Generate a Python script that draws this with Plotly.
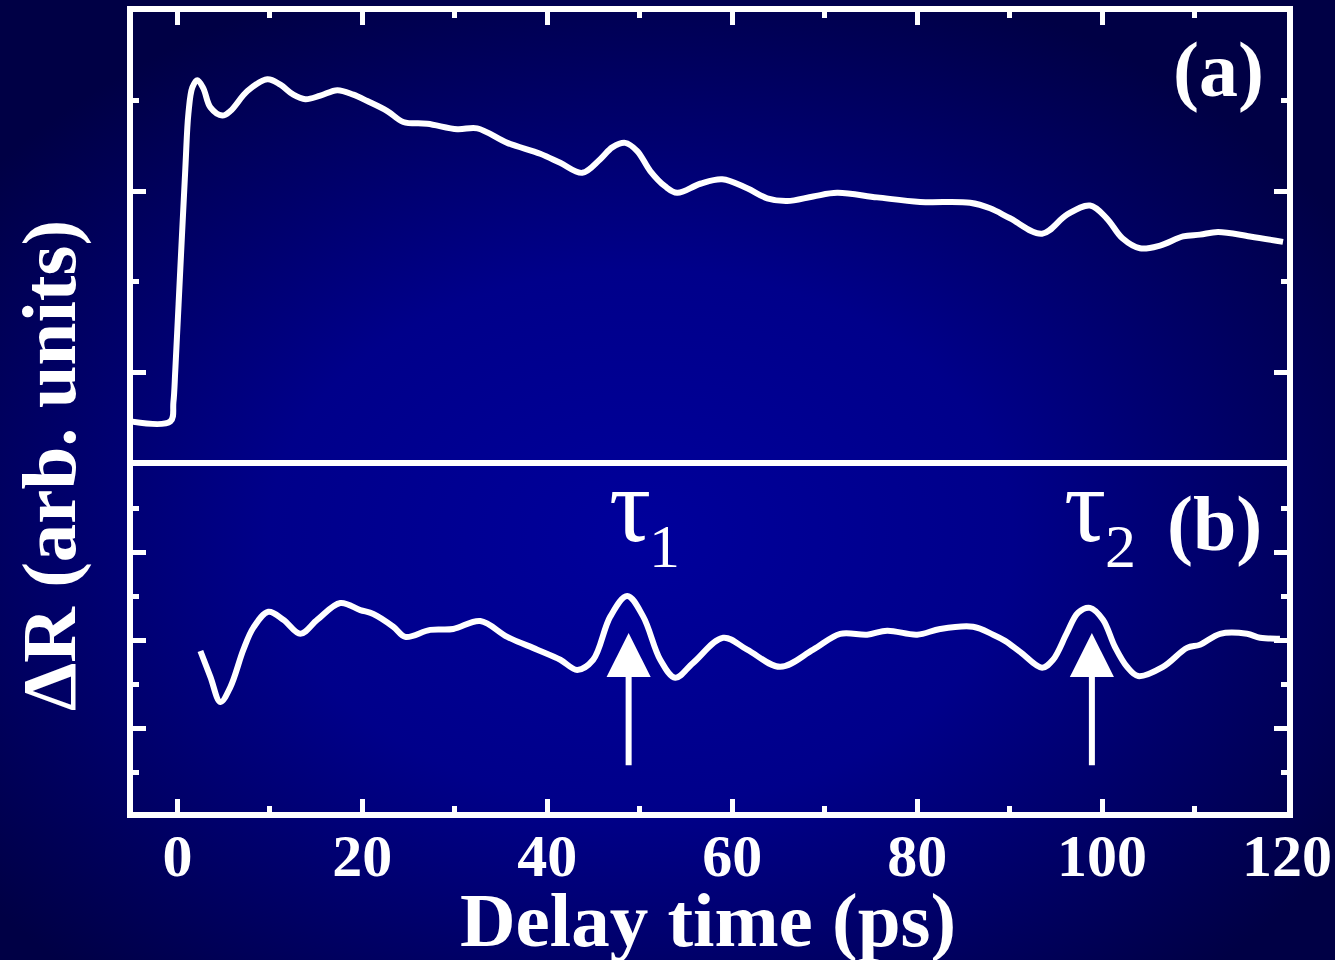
import base64
import plotly.graph_objects as go
from plotly.subplots import make_subplots

# ---------------- data ----------------
delay_a = [-5.08, -0.76, -0.43, -0.22, 0.32, 0.86, 1.19, 1.62, 2.16, 2.81, 3.57, 4.86, 5.73,
           7.57, 9.73, 11.14, 12.54, 13.84, 15.46, 17.30, 19.03, 20.54, 22.70, 24.43, 27.03,
           30.27, 32.43, 35.68, 39.24, 41.40, 43.78, 45.73, 47.03, 48.43, 49.73, 51.14, 52.76,
           54.05, 56.54, 58.92, 61.62, 63.78, 65.95, 68.76, 71.35, 75.68, 80.32, 85.73, 87.89,
           90.05, 93.51, 96.20, 98.70, 100.50, 102.20, 104.10, 106.27, 108.76, 110.59, 112.54,
           116.00, 119.57]
signal_a = [0.465, 0.465, 0.675, 1.04, 2.15, 3.25, 3.85, 4.14, 4.22, 4.13, 3.92, 3.83, 3.88,
            4.10, 4.23, 4.17, 4.06, 4.01, 4.05, 4.11, 4.06, 3.99, 3.88, 3.76, 3.74,
            3.68, 3.69, 3.53, 3.41, 3.31, 3.20, 3.35, 3.48, 3.53, 3.44, 3.22, 3.05,
            2.98, 3.08, 3.13, 3.03, 2.92, 2.89, 2.94, 2.98, 2.93, 2.88, 2.87, 2.81,
            2.70, 2.53, 2.74, 2.84, 2.70, 2.48, 2.37, 2.40, 2.50, 2.52, 2.55,
            2.50, 2.44]

delay_b = [2.49, 3.57, 4.65, 5.73, 7.14, 8.22, 9.84, 11.46, 13.30, 15.14, 17.62, 19.78, 21.19,
           23.35, 24.65, 27.35, 29.84, 32.76, 35.68, 38.92, 41.41, 43.24, 44.97, 46.81, 48.65,
           50.38, 52.22, 53.84, 55.78, 59.03, 61.62, 65.19, 68.76, 71.68, 74.59, 76.76, 80.00,
           82.49, 86.05, 88.22, 89.51, 91.14, 93.51, 94.70, 96.20, 97.40, 98.70, 100.10, 101.40,
           102.70, 103.90, 106.59, 109.19, 110.59, 112.76, 115.68, 117.08, 119.24]
signal_b = [3.77, 3.18, 2.61, 2.95, 3.80, 4.30, 4.66, 4.48, 4.16, 4.48, 4.86, 4.70, 4.61,
            4.32, 4.09, 4.25, 4.27, 4.45, 4.09, 3.80, 3.57, 3.34, 3.57, 4.55, 5.02,
            4.55, 3.57, 3.16, 3.50, 4.07, 3.80, 3.41, 3.80, 4.16, 4.14, 4.23, 4.14,
            4.27, 4.32, 4.14, 4.00, 3.75, 3.39, 3.57, 4.18, 4.64, 4.75, 4.48, 3.86,
            3.41, 3.20, 3.41, 3.84, 3.91, 4.16, 4.16, 4.07, 4.05]

x_major_ticks = [0, 20, 40, 60, 80, 100, 120]
x_tick_labels = ["0", "20", "40", "60", "80", "100", "120"]
x_minor_ticks = [10, 30, 50, 70, 90, 110]
ya_major_ticks = [1, 3]
ya_minor_ticks = [2, 4]
yb_major_ticks = [2, 4, 6]
yb_minor_ticks = [1, 3, 5, 7]

tau_positions = [48.8, 98.9]     # delay of the marked echoes
tau_labels = ["1", "2"]
arrow_tip = 4.18
arrow_tail = 1.14

# ---------------- figure ----------------
W, H = 1335, 960
ML, MR, MT, MB = 133, 48, 12, 148
PW, PH = W - ML - MR, H - MT - MB
split = 0.44

fig = make_subplots(rows=2, cols=1, shared_xaxes=False, vertical_spacing=0,
                    row_heights=[1 - split, split])

fig.add_trace(go.Scatter(x=delay_a, y=signal_a, mode="lines",
                         line=dict(color="white", width=6, shape="spline", smoothing=1.0),
                         hoverinfo="skip", showlegend=False), row=1, col=1)
fig.add_trace(go.Scatter(x=delay_b, y=signal_b, mode="lines",
                         line=dict(color="white", width=6, shape="spline", smoothing=1.0),
                         hoverinfo="skip", showlegend=False), row=2, col=1)

SERIF = "Liberation Serif, Times New Roman, serif"
xr = [-4.8, 120]

common_x = dict(range=xr, automargin=False, showgrid=False, zeroline=False, showline=True,
                linecolor="white", linewidth=6, ticks="inside", tickcolor="white", ticklen=13,
                tickwidth=5, tickvals=x_major_ticks,
                minor=dict(tickvals=x_minor_ticks, ticks="inside", ticklen=6, tickwidth=5,
                           tickcolor="white", showgrid=False))
fig.update_xaxes(**common_x)
fig.update_xaxes(row=1, col=1, side="top", mirror=True, showticklabels=False)
fig.update_xaxes(row=2, col=1, side="bottom", mirror=False, showticklabels=True,
                 ticktext=x_tick_labels,
                 tickfont=dict(family=SERIF, size=60, color="white", weight="bold"),
                 ticklabelstandoff=-14)

common_y = dict(automargin=False, showgrid=False, zeroline=False, showline=True,
                linecolor="white", linewidth=6, mirror="ticks", ticks="inside",
                tickcolor="white", ticklen=13, tickwidth=5, showticklabels=False)
fig.update_yaxes(**common_y)
fig.update_yaxes(row=1, col=1, range=[0.04, 4.97], tickvals=ya_major_ticks,
                 minor=dict(tickvals=ya_minor_ticks, ticks="inside", ticklen=6, tickwidth=5,
                            tickcolor="white", showgrid=False))
fig.update_yaxes(row=2, col=1, range=[0.11, 8.11], tickvals=yb_major_ticks,
                 minor=dict(tickvals=yb_minor_ticks, ticks="inside", ticklen=6, tickwidth=5,
                            tickcolor="white", showgrid=False))


def px_to_paper(px, py):
    return (px - ML) / PW, (H - MB - py) / PH


annotations = []
# axis titles
tx, ty = px_to_paper(708, 920)
annotations.append(dict(text="Delay time (ps)", x=tx, y=ty, xref="paper", yref="paper",
                        showarrow=False, xanchor="center", yanchor="middle",
                        font=dict(family=SERIF, size=77, color="white", weight="bold")))
tx, ty = px_to_paper(49, 466)
annotations.append(dict(text="ΔR (arb. units)", x=tx, y=ty, xref="paper", yref="paper",
                        showarrow=False, textangle=-90, xanchor="center", yanchor="middle",
                        font=dict(family=SERIF, size=77, color="white", weight="bold")))
# panel labels
tx, ty = px_to_paper(1218, 69)
annotations.append(dict(text="(a)", x=tx, y=ty, xref="paper", yref="paper", showarrow=False,
                        xanchor="center", yanchor="middle",
                        font=dict(family=SERIF, size=78, color="white", weight="bold")))
tx, ty = px_to_paper(1214, 523)
annotations.append(dict(text="(b)", x=tx, y=ty, xref="paper", yref="paper", showarrow=False,
                        xanchor="center", yanchor="middle",
                        font=dict(family=SERIF, size=78, color="white", weight="bold")))
# tau labels
for (tpx, spx), lab in zip([(630, 664), (1085, 1120)], tau_labels):
    tx, ty = px_to_paper(tpx, 505)
    annotations.append(dict(text="τ", x=tx, y=ty, xref="paper", yref="paper", showarrow=False,
                            xanchor="center", yanchor="middle",
                            font=dict(family=SERIF, size=105, color="white")))
    tx, ty = px_to_paper(spx, 546)
    annotations.append(dict(text=lab, x=tx, y=ty, xref="paper", yref="paper", showarrow=False,
                            xanchor="center", yanchor="middle",
                            font=dict(family=SERIF, size=62, color="white")))
# arrows
for xp in tau_positions:
    annotations.append(dict(text="", x=xp, y=arrow_tip, ax=xp, ay=arrow_tail,
                            xref="x2", yref="y2", axref="x2", ayref="y2",
                            showarrow=True, arrowhead=2, arrowsize=1.47, arrowwidth=6,
                            arrowcolor="white"))

svg = ("<svg xmlns='http://www.w3.org/2000/svg' width='1335' height='960' viewBox='0 0 1335 960' "
       "preserveAspectRatio='none'><defs><radialGradient id='g' cx='0.48' cy='0.56' r='0.62'>"
       "<stop offset='0' stop-color='#00009b'/><stop offset='0.45' stop-color='#00008a'/>"
       "<stop offset='1' stop-color='#000045'/></radialGradient></defs>"
       "<rect width='1335' height='960' fill='url(#g)'/></svg>")
src = "data:image/svg+xml;base64," + base64.b64encode(svg.encode()).decode()

fig.update_layout(
    width=W, height=H,
    margin=dict(l=ML, r=MR, t=MT, b=MB, pad=0),
    paper_bgcolor="#000050", plot_bgcolor="rgba(0,0,0,0)",
    showlegend=False,
    annotations=annotations,
    images=[dict(source=src, xref="paper", yref="paper", x=-ML / PW, y=(H - MB) / PH,
                 sizex=W / PW, sizey=H / PH, xanchor="left", yanchor="top",
                 sizing="stretch", layer="below")],
)

fig.write_html("out.html")
